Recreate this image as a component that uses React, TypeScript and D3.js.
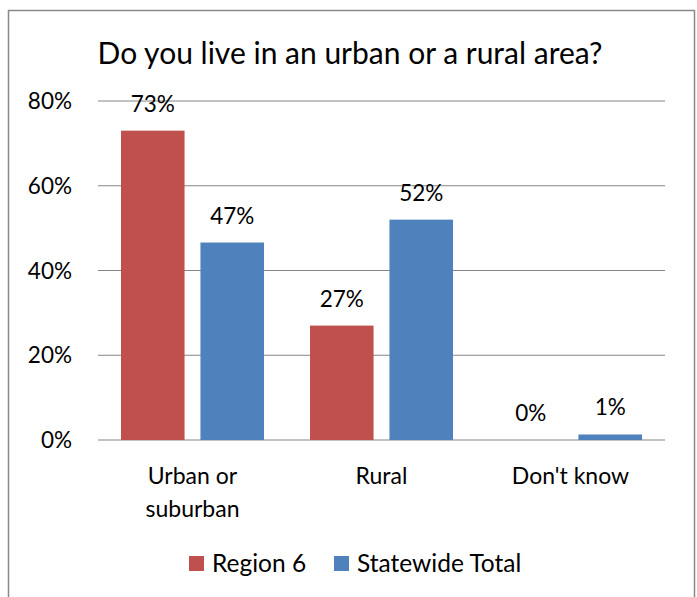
import React from "react";
import * as d3 from "d3";

const categories = ["Urban or suburban", "Rural", "Don't know"];
const categoryLines = [["Urban or", "suburban"], ["Rural"], ["Don't know"]];
const seriesNames = ["Region 6", "Statewide Total"];
const region6 = [73, 27, 0];
const statewide = [46.6, 52, 1.3];
const region6Labels = ["73%", "27%", "0%"];
const statewideLabels = ["47%", "52%", "1%"];
const yTicks = [0, 20, 40, 60, 80];
const colors = ["#C0504D", "#4F81BD"];

const W = 697;
const H = 597;
const FONT = "Lato, 'Open Sans', sans-serif";

export default function App() {
  const plotLeft = 98;
  const plotRight = 665;
  const plotTop = 101;
  const plotBottom = 440;

  const x0 = d3.scaleBand<string>().domain(categories).range([plotLeft, plotRight]).paddingInner(0).paddingOuter(0);
  const x1 = d3.scaleBand<string>().domain(seriesNames).range([23, x0.bandwidth() - 23]).paddingInner(0.2).paddingOuter(0);
  const y = d3.scaleLinear().domain([0, 80]).range([plotBottom, plotTop]);

  const series = [
    { name: seriesNames[0], values: region6, labels: region6Labels, color: colors[0] },
    { name: seriesNames[1], values: statewide, labels: statewideLabels, color: colors[1] },
  ];

  return (
    <div style={{ position: "absolute", left: 0, top: 0 }}>
      <svg width={W} height={H} style={{ display: "block", background: "#fff" }}>
        <rect x={8.5} y={10.5} width={686} height={620} fill="#fff" stroke="#898989" strokeWidth={1.5} />
        <text x={350} y={64} textAnchor="middle" fontFamily={FONT} fontSize={30} fill="#000">
          Do you live in an urban or a rural area?
        </text>
        {yTicks.map((t) => (
          <g key={t}>
            <line x1={plotLeft} x2={plotRight} y1={y(t)} y2={y(t)} stroke="#868686" strokeWidth={1.2} />
            <text x={72} y={y(t) + 8} textAnchor="end" fontFamily={FONT} fontSize={22.5} fill="#000">
              {t}%
            </text>
          </g>
        ))}
        {categories.map((c, i) => (
          <g key={c}>
            {series.map((s) => {
              const bx = (x0(c) as number) + (x1(s.name) as number);
              const bw = x1.bandwidth();
              const top = y(s.values[i]);
              return (
                <g key={s.name}>
                  {s.values[i] > 0 && (
                    <rect x={bx} y={top} width={bw} height={plotBottom - top} fill={s.color} />
                  )}
                  <text x={bx + bw / 2} y={top - 19} textAnchor="middle" fontFamily={FONT} fontSize={22.5} fill="#000">
                    {s.labels[i]}
                  </text>
                </g>
              );
            })}
            {categoryLines[i].map((line, j) => (
              <text key={j} x={(x0(c) as number) + x0.bandwidth() / 2} y={484 + j * 33} textAnchor="middle" fontFamily={FONT} fontSize={23} fill="#000">
                {line}
              </text>
            ))}
          </g>
        ))}
        {series.map((s, i) => {
          const lx = i === 0 ? 189 : 334;
          return (
            <g key={s.name}>
              <rect x={lx} y={556} width={15} height={15} fill={s.color} />
              <text x={lx + 23} y={572} fontFamily={FONT} fontSize={24.5} fill="#000">
                {s.name}
              </text>
            </g>
          );
        })}
      </svg>
    </div>
  );
}
